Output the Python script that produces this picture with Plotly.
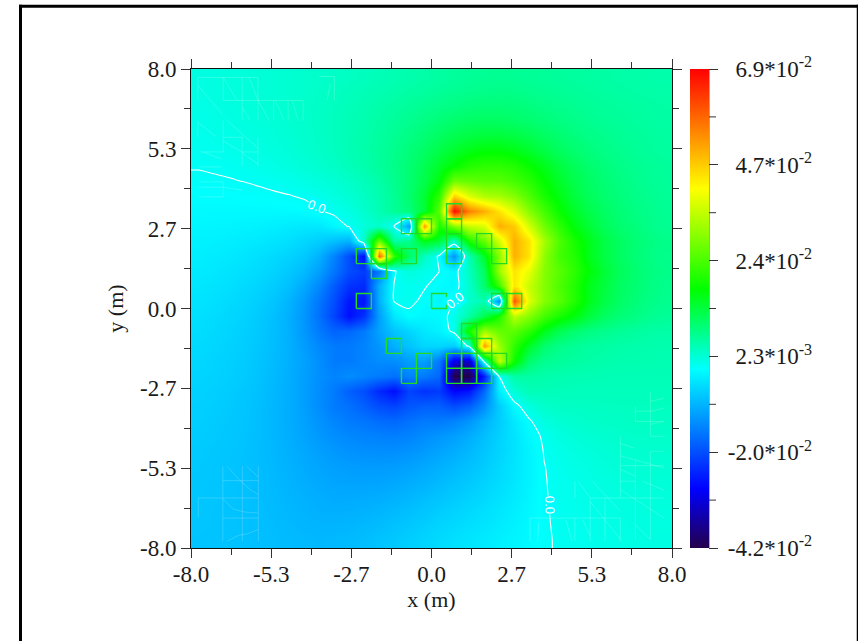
import plotly.graph_objects as go
import numpy as np

# field values in units of 1e-3 at the centres of 0.5 m cells
x_nodes = [-7.75,-7.25,-6.75,-6.25,-5.75,-5.25,-4.75,-4.25,-3.75,-3.25,-2.75,-2.25,-1.75,-1.25,-0.75,-0.25,
           0.25,0.75,1.25,1.75,2.25,2.75,3.25,3.75,4.25,4.75,5.25,5.75,6.25,6.75,7.25,7.75]
y_nodes = [7.75,7.25,6.75,6.25,5.75,5.25,4.75,4.25,3.75,3.25,2.75,2.25,1.75,1.25,0.75,0.25,
           -0.25,-0.75,-1.25,-1.75,-2.25,-2.75,-3.25,-3.75,-4.25,-4.75,-5.25,-5.75,-6.25,-6.75,-7.25,-7.75]
z_values = [
 [1.5,1.7,1.9,2.1,2.3,2.5,2.7,3,3.2,3.5,3.8,4.2,4.6,5,5.4,5.8,6.2,6.6,7,7.2,7.3,7.2,7,6.8,6.6,6.4,6.2,6,5.8,5.7,5.6,5.5],
 [1.4,1.6,1.8,2,2.2,2.5,2.8,3.1,3.4,3.8,4.2,4.6,5,5.5,6,6.4,6.9,7.3,7.7,8,8.1,8,7.7,7.4,7.1,6.8,6.5,6.3,6.1,5.9,5.8,5.7],
 [1.2,1.4,1.6,1.9,2.2,2.5,2.8,3.2,3.6,4,4.5,5,5.6,6.2,6.8,7.4,8,8.5,9,9.3,9.4,9.2,8.8,8.3,7.8,7.4,7,6.7,6.5,6.3,6.1,5.9],
 [1,1.2,1.4,1.7,2,2.3,2.7,3.1,3.6,4.1,4.7,5.3,6,6.8,7.6,8.5,9.4,10.2,10.8,11,11,10.6,10,9.3,8.6,8,7.5,7.1,6.8,6.5,6.3,6.1],
 [.7,.9,1.1,1.4,1.7,2.1,2.5,3,3.5,4.1,4.8,5.5,6.3,7.3,8.4,9.6,11,12.2,13.2,13.8,13.8,13.2,12.2,11,9.9,9,8.2,7.7,7.2,6.8,6.5,6.3],
 [.4,.6,.8,1.1,1.4,1.8,2.2,2.7,3.3,4,4.8,5.6,6.6,7.8,9.2,10.8,12.8,14.8,16.6,17.6,17.6,16.6,15,13,11.2,10,9,8.2,7.6,7.1,6.7,6.4],
 [.1,.2,.3,.6,.9,1.3,1.8,2.3,2.9,3.6,4.4,5.4,6.6,8,9.7,12,15,18,21,22,22,21,18.5,16,13.5,11.5,10,9,8.2,7.5,7,6.7],
 [-.3,-.2,-.1,.02,.2,.45,.8,1.3,1.9,2.6,3.4,4.4,5.8,7.6,9.8,12.5,17,28,27,26,26,24,21.5,18,15,12.5,10.8,9.5,8.6,7.8,7.2,6.8],
 [-.7,-.65,-.6,-.5,-.4,-.25,-.1,.2,.9,1.7,2.6,3.7,5.2,7.2,10,14,22,46,38,34,33,30,25,20,16.5,13.5,11.4,10,9,8.2,7.5,7],
 [-1.1,-1.1,-1.1,-1.1,-1.1,-1.1,-1,-.8,-.2,.5,1.5,3,5,7,9,14,26,68,55,50,44,38,30,24,18.5,15,12.5,10.8,9.5,8.5,7.8,7.2],
 [-1.5,-1.6,-1.7,-1.9,-2.1,-2.4,-2.7,-3,-3,-1.4,.2,2,3,0,-11,52,20,30,36,38,50,47,37,28,22,17,14,11.5,10,9,8,7.3],
 [-2,-2.2,-2.4,-2.7,-3,-3.5,-4,-5,-6,-7.5,-9,4,28,6,8,16,14,3,20,27,37,50,44,33,25,20,16,13,11,9.7,8.7,8],
 [-2.4,-2.7,-3,-3.4,-4,-4.6,-5.4,-6.5,-9,-14,-20,-27,58,22,11,4,-.5,-12,5,15,30,50,44,31,24,21,16,13,11,9.5,8.5,7.8],
 [-2.8,-3.1,-3.5,-4,-4.6,-5.4,-6.5,-8,-11,-15.5,-20,-22,-15,-.3,2,1,.05,-1.5,4,11,32,44,39,30,26,22,17.5,14,11.5,10,8.8,8],
 [-3.2,-3.6,-4,-4.6,-5.3,-6.2,-7.5,-10,-13.5,-18.5,-23,-24,-9,.05,.6,.2,-.8,-1.5,3,10,23,44,36,30,25,21,16,13.5,11,9.8,8.6,7.8],
 [-3.6,-4,-4.5,-5.1,-5.9,-7,-8.7,-11.5,-15.5,-20,-26,-26,-9,.1,.6,-.5,-1.5,0,3,5,-13,60,38,30,26,21,16,13,10.8,9.4,8.3,7.6],
 [-4,-4.4,-4.9,-5.5,-6.4,-7.5,-9.2,-12,-16,-21,-27,-23,-11,-3,-.6,-1.5,-1,.8,6,12,20,35,30,24,20,17,13.5,11,9.5,8.5,7.6,7],
 [-4.3,-4.7,-5.2,-5.8,-6.6,-7.7,-9.2,-11.8,-15,-17.5,-17,-15,-10.5,-7,-5,-3,-2,.8,20,32,27,26,22,16,12,10,8.6,7.8,7,6.5,6,5.8],
 [-4.6,-5,-5.5,-6,-6.8,-7.8,-9.2,-11.2,-13.5,-15,-15,-14,-12,-9,-7,-5,-5,-6,1,52,32,22,15,10,8,7,6.4,6,5.7,5.5,5.4,5.3],
 [-4.9,-5.3,-5.7,-6.2,-7,-8,-9.2,-10.8,-12.8,-15,-15,-14,-13,-13,-11,-11,-15,-30,-33,2,36,19,10,7.5,6.8,6.2,5.8,5.5,5.3,5.2,5.1,5],
 [-5.2,-5.5,-5.9,-6.4,-7.2,-8.2,-9.4,-11,-12.8,-14,-13,-14,-15,-16,-14,-15,-17,-42,-42,-25,.2,6,6,5.5,5.2,5,4.9,4.8,4.7,4.7,4.7,4.7],
 [-5.5,-5.8,-6.2,-6.7,-7.4,-8.4,-9.5,-11,-13,-15,-18,-20,-24,-27,-21,-23,-22,-28,-26,-17,-2.5,2.5,4.6,4.5,4.4,4.3,4.3,4.3,4.3,4.3,4.3,4.3],
 [-5.7,-6,-6.4,-6.9,-7.6,-8.5,-9.5,-11,-13,-15,-16,-18,-20,-21,-19,-18,-18,-20,-18,-13,-6,-1,1.8,3.2,3.6,3.7,3.8,3.9,4,4,4,4],
 [-5.9,-6.2,-6.6,-7,-7.7,-8.5,-9.5,-10.8,-12.3,-13.8,-15,-15.5,-16.5,-17,-16,-15,-15,-14,-12,-9,-6,-3,-.3,1.7,2.6,3,3.3,3.5,3.6,3.7,3.7,3.7],
 [-6.1,-6.4,-6.7,-7.1,-7.7,-8.5,-9.4,-10.5,-11.7,-12.8,-13.5,-14,-14.3,-14.5,-14,-13,-12,-11,-9.5,-7.5,-5.5,-3.5,-1.3,.5,1.6,2.2,2.6,2.9,3.1,3.3,3.3,3.3],
 [-6.3,-6.6,-6.9,-7.2,-7.8,-8.4,-9.2,-10,-11,-11.8,-12.4,-12.7,-12.8,-12.8,-12.3,-11.5,-10.5,-9.5,-8.3,-6.8,-5.2,-3.6,-1.8,.15,1,1.6,2,2.4,2.7,2.9,2.9,2.9],
 [-6.5,-6.8,-7,-7.3,-7.8,-8.3,-9,-9.7,-10.4,-11,-11.3,-11.5,-11.5,-11.3,-10.8,-10,-9.2,-8.3,-7.3,-6.2,-4.8,-3.4,-1.8,-.05,.7,1.2,1.6,2,2.3,2.5,2.6,2.6],
 [-6.6,-6.8,-7,-7.3,-7.7,-8.2,-8.8,-9.4,-10,-10.4,-10.6,-10.6,-10.5,-10.2,-9.6,-9,-8.2,-7.3,-6.5,-5.5,-4.4,-3.2,-1.8,-.1,.45,.9,1.3,1.7,2,2.2,2.3,2.3],
 [-6.7,-6.9,-7.1,-7.3,-7.7,-8.1,-8.6,-9.1,-9.5,-9.8,-9.8,-9.7,-9.5,-9.1,-8.5,-7.8,-7.1,-6.4,-5.6,-4.8,-3.8,-2.8,-1.6,-.2,.6,.8,1.1,1.4,1.7,1.9,2,2],
 [-6.8,-7,-7.1,-7.3,-7.6,-8,-8.4,-8.8,-9.1,-9.2,-9.1,-8.9,-8.6,-8.1,-7.5,-6.8,-6.1,-5.4,-4.7,-4,-3.2,-2.4,-1.4,-.25,.5,.7,.9,1.2,1.5,1.7,1.8,1.8],
 [-6.9,-7,-7.1,-7.3,-7.5,-7.8,-8.2,-8.5,-8.7,-8.7,-8.5,-8.2,-7.8,-7.2,-6.6,-5.9,-5.2,-4.6,-4,-3.4,-2.7,-2,-1.2,-.3,.4,.6,.8,1.1,1.3,1.5,1.6,1.6],
 [-7,-7.1,-7.2,-7.3,-7.5,-7.7,-8,-8.2,-8.3,-8.2,-8,-7.6,-7.1,-6.5,-5.8,-5.2,-4.5,-3.9,-3.3,-2.8,-2.2,-1.7,-1,-.35,.3,.5,.7,1,1.2,1.4,1.5,1.5],
]

# green sensor squares: centres of the 0.5 m cells
square_x = [-2.25,-1.75,-.75,-1.75,-2.25,-1.25,-.25,-.75,.25,.75,.75,.75,.75,-.25,-.75,1.75,2.25,2.25,2.75,1.25,1.25,1.75,1.75,2.25,.75,1.25,.75,1.25,1.75]
square_y = [1.75,1.75,1.75,1.25,.25,-1.25,-1.75,-2.25,.25,3.25,2.75,2.25,1.75,2.75,2.75,2.25,1.75,.25,.25,-.75,-1.25,-1.25,-1.75,-1.75,-1.75,-1.75,-2.25,-2.25,-2.25]

# faint pale polylines in the corners
faint_lines = [
 [(-7.77,7.72),(-5.77,7.72)],[(-7.77,7.72),(-7.77,6.95)],[(-6.93,7.72),(-6.93,6.95)],[(-6.3,7.72),(-6.3,6.28)],
 [(-5.77,7.72),(-5.77,6.28)],[(-6.93,6.95),(-4.27,6.95)],[(-5.25,6.95),(-5.25,6.28)],[(-4.77,6.95),(-4.77,6.28)],
 [(-4.27,6.95),(-4.27,6.28)],[(-7.77,7.45),(-7.4,7),(-6.97,6.5)],[(-6.93,7.72),(-6.47,6.95)],[(-6.07,7.72),(-5.77,6.95)],
 [(-6.3,6.72),(-6.03,6.28)],[(-5.77,6.95),(-5.4,6.28)],[(-5.2,6.95),(-4.9,6.28)],[(-4.63,6.95),(-4.43,6.28)],
 [(-3.73,7.75),(-3.23,7.75),(-3.23,6.95)],[(-3.37,7.5),(-3.47,6.95)],[(-7.77,6.28),(-7.77,5.72)],[(-7.77,6.22),(-7.18,5.75)],
 [(-6.93,6.28),(-6.93,5.22)],[(-7.73,5.23),(-6.93,5.23)],[(-7.6,5.23),(-6.97,4.98)],[(-6.93,5.72),(-6.27,5.72)],
 [(-6.8,6.28),(-5.77,5.35)],[(-6.93,5.6),(-6.27,5.2)],[(-6.3,5.72),(-6.3,4.75)],[(-5.77,5.72),(-5.77,4.75)],
 [(-6.27,5.23),(-5.77,5.23)],[(-6.27,5.17),(-5.77,4.83)],[(-7.73,4.73),(-6.97,4.73)],[(-7.73,4.23),(-6.93,4.23)],
 [(-7.73,4.05),(-6.93,4.05),(-6.27,3.95)],[(-7.73,3.73),(-6.93,3.73)],[(-6.93,4.23),(-6.93,3.73)],
 [(-6.94,-5.27),(-6.94,-7.77)],[(-5.76,-5.27),(-5.76,-7.77)],[(-6.29,-5.27),(-6.29,-7.77)],[(-6.94,-5.75),(-5.76,-5.75)],
 [(-7.76,-6.97),(-7.76,-6.33),(-5.76,-6.33)],[(-6.94,-7),(-5.76,-7)],[(-6.79,-5.28),(-6.37,-5.75),(-6.03,-6.05),(-5.76,-6.22)],
 [(-6.14,-5.28),(-5.76,-5.63)],[(-6.94,-6.37),(-6.59,-6.7),(-6.2,-6.8),(-5.76,-6.83)],[(-6.79,-7.77),(-6.43,-7.58),(-6.1,-7.52),(-5.76,-7.38)],
 [(3.28,-7.77),(3.28,-7),(6.28,-7)],[(3.53,-7.77),(3.57,-7.15)],[(4.47,-7.05),(4.67,-7.77)],[(4.77,-5.77),(4.77,-6.33)],
 [(4.77,-7),(4.77,-7.77)],[(4.88,-5.77),(5.28,-6.33)],[(5.02,-7.05),(5.28,-7.6)],[(5.28,-6.33),(5.28,-7.77)],[(5.28,-6.33),(7.74,-6.33)],
 [(6.28,-4.27),(6.28,-6.33)],[(5.77,-6.33),(5.77,-7.77)],[(6.28,-7),(6.28,-7.77)],[(5.36,-5.77),(6.28,-6.77)],[(5.28,-6.45),(6.28,-7.7)],
 [(6.78,-5.05),(6.78,-7.72)],[(7.28,-4.77),(7.28,-7.72)],[(6.28,-5.25),(7.74,-5.25)],[(6.28,-5.77),(6.78,-5.77)],[(7.28,-4.77),(7.74,-4.77)],
 [(6.28,-4.51),(6.73,-4.66)],[(6.28,-4.92),(7.74,-5.33)],[(6.28,-5.37),(6.78,-5.6)],[(7.02,-5.77),(7.74,-6.07)],[(6.28,-6.05),(7.74,-7)],
 [(6.78,-7.22),(7.28,-7.72)],[(6.78,-3.27),(6.78,-3.77)],[(7.28,-2.77),(7.28,-4.27)],[(6.78,-3.77),(7.74,-3.77)],[(6.78,-3.43),(7.28,-3.43)],
 [(7.28,-3.1),(7.74,-3)],[(7.28,-3.44),(7.74,-3.33)],[(7.28,-3.87),(7.74,-3.77)],[(7.28,-4.27),(7.74,-4.27)],
]

axis_ticks = [-8, -16/3, -8/3, 0, 8/3, 16/3, 8]
axis_labels = ["-8.0", "-5.3", "-2.7", "0.0", "2.7", "5.3", "8.0"]
axis_minor = [-20/3, -4, -4/3, 4/3, 4, 20/3]
bar_values = [-42, -19.8, 2.4, 24.6, 46.8, 69]
bar_minor = [-30.9, -8.7, 13.5, 35.7, 57.9]
bar_labels = ["\u2005-4.2*10<sup>-2</sup>", "\u2005-2.0*10<sup>-2</sup>",
              "\u2005\u20042.3*10<sup>-3</sup>", "\u2005\u20042.4*10<sup>-2</sup>",
              "\u2005\u20044.7*10<sup>-2</sup>", "\u2005\u20046.9*10<sup>-2</sup>"]
contour_label_x = [-3.82, 0.78, 3.93]
contour_label_y = [3.42, 0.27, -6.55]
contour_label_angle = [20, -38, 88]
contour_label_bg = ["#00feff", "#00ffff", "#00fcff"]

FONT = "Liberation Serif"
TXT = "#1a1a1a"
PW, PH, L, T = 481.0, 480.0, 191.0, 68.5
def px(v): return (v - L) / PW
def py(v): return (T + PH - v) / PH

colorscale = [[0, "#24004c"], [0.123, "#0000ff"], [0.373, "#00ffff"], [0.54, "#00ff00"], [0.75, "#ffff00"], [1, "#ff0000"]]

z = np.array(z_values)
fig = go.Figure()
fig.add_trace(go.Heatmap(
    x=x_nodes, y=y_nodes, z=z, zmin=-42, zmax=69, zsmooth="best", colorscale=colorscale, hoverinfo="skip",
    colorbar=dict(x=px(690), xanchor="left", xpad=0, y=0, yanchor="bottom", ypad=0, len=1, thickness=19,
                  outlinewidth=0, ticks="outside", ticklen=9, tickcolor="#333", tickwidth=1,
                  tickmode="array", tickvals=bar_values, ticktext=bar_labels,
                  tickfont=dict(family=FONT, size=23, color=TXT)),
))
# the zero contour, padded out to the frame edges
zp = np.pad(z, 1, mode="edge")
fig.add_trace(go.Contour(
    x=[-8] + x_nodes + [8], y=[8] + y_nodes + [-8], z=zp, showscale=False, hoverinfo="skip",
    autocontour=False, contours=dict(start=0, end=0, size=1, coloring="none", showlabels=False),
    line=dict(color="white", width=1.1, smoothing=0.6),
))
fx, fy = [], []
for seg in faint_lines:
    for a, b in seg:
        fx.append(a); fy.append(b)
    fx.append(None); fy.append(None)
fig.add_trace(go.Scatter(x=fx, y=fy, mode="lines", line=dict(color="rgba(255,255,255,0.18)", width=1), hoverinfo="skip"))
sx, sy = [], []
for a, b in zip(square_x, square_y):
    sx += [a-.25, a+.25, a+.25, a-.25, a-.25, None]
    sy += [b-.25, b-.25, b+.25, b+.25, b-.25, None]
fig.add_trace(go.Scatter(x=sx, y=sy, mode="lines", line=dict(color="#22dc22", width=1.4), hoverinfo="skip"))

annotations = [dict(x=a, y=b, text="0.0", textangle=c, showarrow=False, bgcolor=d, borderpad=0,
                    font=dict(family="Liberation Sans", size=13, color="white"))
               for a, b, c, d in zip(contour_label_x, contour_label_y, contour_label_angle, contour_label_bg)]

axis = dict(range=[-8, 8], tickmode="array", tickvals=axis_ticks, ticktext=axis_labels, ticks="outside", ticklen=9,
            tickcolor="#333", tickwidth=1, showline=True, linecolor="#111", linewidth=1, mirror="ticks", showgrid=False,
            zeroline=False, tickfont=dict(family=FONT, size=23, color=TXT),
            minor=dict(tickmode="array", tickvals=axis_minor, ticks="outside", ticklen=6, tickcolor="#333", tickwidth=1, showgrid=False))
shapes = [
    dict(type="line", xref="paper", yref="paper", x0=px(20.5), x1=px(20.5), y0=py(4), y1=py(645), line=dict(color="black", width=3)),
    dict(type="line", xref="paper", yref="paper", x0=px(19), x1=px(860), y0=py(5.5), y1=py(5.5), line=dict(color="black", width=3)),
    dict(type="line", xref="paper", yref="paper", x0=px(857.5), x1=px(857.5), y0=py(4), y1=py(645), line=dict(color="black", width=1.5)),
    dict(type="line", xref="paper", yref="paper", x0=px(709), x1=px(709), y0=0, y1=1, line=dict(color="#555", width=1)),
]
for v in bar_minor:
    pos = (v + 42) / 111
    shapes.append(dict(type="line", xref="paper", yref="paper", x0=px(709), x1=px(716), y0=pos, y1=pos, line=dict(color="#333", width=1)))
fig.update_layout(
    width=858, height=641, autosize=False, showlegend=False, plot_bgcolor="white", paper_bgcolor="white",
    margin=dict(l=L, r=858-L-PW, t=T, b=641-T-PH, pad=0),
    xaxis=dict(axis, ticklabelstandoff=-4, title=dict(text="x (m)", font=dict(family=FONT, size=22, color=TXT), standoff=3)),
    yaxis=dict(axis, title=dict(text="y (m)", font=dict(family=FONT, size=22, color=TXT), standoff=10)),
    shapes=shapes, annotations=annotations,
)
fig.write_html("out.html", config=dict(displayModeBar=False),
               post_script="document.body.style.margin='0';document.body.style.overflow='hidden';")
